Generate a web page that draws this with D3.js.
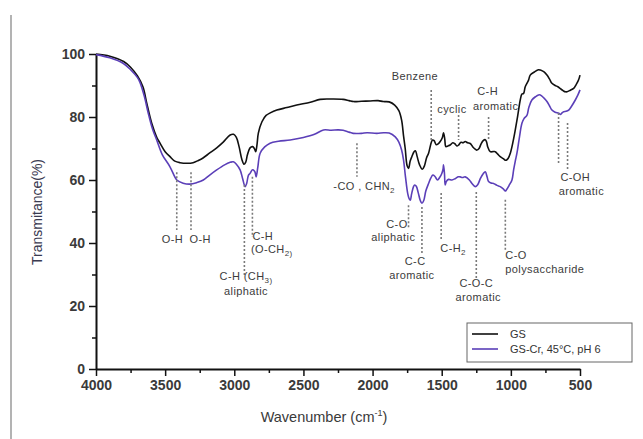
<!DOCTYPE html>
<html>
<head>
<meta charset="utf-8">
<script src="https://cdn.jsdelivr.net/npm/d3@7"></script>
<style>
  html, body { margin: 0; padding: 0; background: #fff; }
  svg { display: block; }
</style>
</head>
<body>
<svg id="chart" width="643" height="439"></svg>
<script>
// FTIR spectra: wavenumber (cm-1) and transmittance (%)
const gsWavenumber = [4000,3900,3800,3750,3700,3660,3633,3597,3560,3537,3500,3465,3430,3392,3340,3298,3260,3226,3180,3127,3080,3030,3005,2985,2965,2945,2930,2918,2905,2886,2868,2855,2845,2835,2826,2800,2770,2740,2692,2620,2548,2450,2379,2300,2213,2170,2138,2080,2017,1960,1923,1880,1840,1810,1790,1776,1764,1750,1740,1728,1716,1700,1690,1678,1660,1640,1625,1610,1595,1575,1566,1555,1540,1525,1511,1495,1487,1478,1470,1455,1439,1420,1405,1390,1378,1360,1345,1330,1312,1294,1275,1258,1245,1230,1215,1200,1185,1175,1168,1149,1130,1113,1095,1077,1055,1040,1033,1020,1004,985,968,950,932,920,908,896,872,860,830,800,787,760,739,720,703,680,660,642,620,606,594,570,546,525,510,500];
const gsTransmittance = [100,99.3,97.6,95.8,93,89.5,84.4,78,73.5,71.7,69,67.4,66,65.5,65.3,65.5,66.2,67,68.5,70.2,72,74.3,74.5,73.5,70.5,66.5,65,65.6,68,70.2,70.6,70,69,71.5,74.9,78.5,80.5,81.3,82.2,83,83.8,84.7,85.6,85.7,85.6,85.2,84.9,85,85.1,85.2,84.9,84.8,83.8,82,79,74,70,64.5,63.7,66,67.4,69,69.3,67.5,64.8,63.4,64.5,67,68.5,72,72.7,72.5,71.2,71.5,72.2,73.5,75,73,70.6,70.8,71.1,71.8,71.5,70.8,71.1,72,71.8,72.2,71.8,71.6,70.5,69.8,69.5,70,71.5,72.5,72.8,72,70.6,69,69,69,68.2,67.4,66.8,66.3,66.3,66.8,68.5,72,75.9,80.5,85.4,87.3,87.5,89.6,91.7,93.3,94.3,95,94.9,94.3,93.3,92,90.7,90,89.6,89,88.3,88,88,88.5,89.1,90.5,91.8,93.3];

const crWavenumber = [4000,3900,3802,3750,3700,3682,3650,3622,3590,3561,3520,3465,3430,3416,3370,3320,3270,3224,3180,3127,3070,3030,3007,2985,2958,2940,2922,2910,2898,2886,2870,2862,2850,2842,2830,2813,2780,2741,2680,2596,2500,2420,2355,2300,2250,2213,2170,2140,2080,2040,1969,1920,1880,1836,1810,1790,1776,1762,1745,1735,1727,1718,1704,1695,1684,1670,1655,1643,1630,1615,1595,1580,1564,1550,1530,1515,1500,1490,1487,1480,1475,1467,1450,1426,1400,1380,1366,1350,1330,1300,1280,1258,1240,1220,1200,1185,1172,1161,1140,1125,1100,1077,1055,1040,1033,1010,992,980,968,956,940,920,905,884,870,848,820,800,787,760,739,720,703,680,654,640,630,618,600,582,560,534,515,500];
const crTransmittance = [99.8,98.8,97,95,92.5,91,86.5,81.2,76,72.7,68,64.2,61,60,59,58.7,59.2,60,61.5,63.2,64.8,65.6,65.8,65,63.2,60.5,57.9,59,61.5,62.1,63.2,63.2,62.5,61,64,68.5,70.5,71.7,72.3,72.7,73.5,74.5,75.9,75.8,75.9,75.8,75.2,74.8,74.8,75,74.8,75,74.9,73.7,72,69.5,66.3,61,55.5,54,53.6,55.5,57.9,58.4,58,56,53.5,52.6,53.5,56.5,58.9,60.5,61.6,61.2,60,60.8,62,63.5,64.8,62,58.4,59.5,60.2,60,60.5,61,61,60.8,61,60,58.8,57.9,58.5,60.5,62,62.6,61,59.5,59,58.9,58.3,57.9,57.2,56.5,56.8,58.5,60,63.2,66,68.5,73,78,79.5,80.5,83,85.4,86.5,87,87,86,84.9,83.5,82.2,81.5,81.2,80.8,81.3,81.7,81.8,82.2,83.5,85.4,87,88.6];

const seriesNames = ["GS", "GS-Cr, 45°C, pH 6"];
const seriesColors = ["#111111", "#5b3fb8"];

const xTickValues = [4000, 3500, 3000, 2500, 2000, 1500, 1000, 500];
const xMinorTicks = [3750, 3250, 2750, 2250, 1750, 1250, 750];
const yTickValues = [0, 20, 40, 60, 80, 100];
const yMinorTicks = [10, 30, 50, 70, 90];

// Band assignments: wavenumber, dotted-line span (T from/to)
const bandWavenumber = [3416, 3313, 2927, 2869, 2113, 1576, 1378, 1161, 1740, 1643, 1504, 1250, 1040, 655, 590];
const bandFrom = [62.5, 62.5, 58.4, 61, 71.7, 88.6, 80.6, 80, 52, 51.4, 55.9, 56.2, 53.7, 81.3, 78.1];
const bandTo = [44.1, 44.1, 29.2, 41.9, 61, 72.7, 72.7, 72.7, 44.8, 36.8, 41, 28.3, 37.8, 65.4, 63.2];

// label: text (subscript after _), wavenumber, transmittance, anchor
const bandLabels = [
  ["O-H", 3447, 40, "middle"],
  ["O-H", 3247, 40, "middle"],
  ["C-H (CH_3)", 2915, 28.3, "middle"],
  ["aliphatic", 2915, 23.5, "middle"],
  ["C-H", 2869, 41, "start"],
  ["(O-CH_2)", 2880, 36.8, "start"],
  ["-CO , CHN_2", 2061, 56.8, "middle"],
  ["Benzene", 1694, 91.7, "middle"],
  ["cyclic", 1426, 81.3, "middle"],
  ["C-H", 1168, 87, "middle"],
  ["aromatic", 1110, 82.2, "middle"],
  ["C-O", 1824, 44.8, "middle"],
  ["aliphatic", 1850, 40.5, "middle"],
  ["C-C", 1692, 33, "middle"],
  ["aromatic", 1716, 28.6, "middle"],
  ["C-H_2", 1510, 37.1, "start"],
  ["C-O-C", 1250, 25.9, "middle"],
  ["aromatic", 1236, 21.6, "middle"],
  ["C-O", 1040, 34.8, "start"],
  ["polysaccharide", 1040, 30.5, "start"],
  ["C-OH", 534, 59.6, "middle"],
  ["aromatic", 490, 55.3, "middle"]
];

const svg = d3.select("#chart");

const x = d3.scaleLinear().domain([4000, 500]).range([96, 580]);
const y = d3.scaleLinear().domain([0, 100]).range([369, 54]);

// frame line at the left edge of the figure
svg.append("line")
  .attr("x1", 11).attr("x2", 11).attr("y1", 15).attr("y2", 439)
  .attr("stroke", "#9a9a9a").attr("stroke-width", 1.5);

// axes
const tickFont = "'Liberation Sans', Arial, sans-serif";
svg.append("g").attr("transform", `translate(0,${y(0)})`)
  .call(d3.axisBottom(x).tickValues(xTickValues).tickFormat(d3.format("d")).tickSize(7).tickSizeOuter(0).tickPadding(4));
svg.append("g").attr("transform", `translate(0,${y(0)})`)
  .call(d3.axisBottom(x).tickValues(xMinorTicks).tickFormat("").tickSize(4).tickSizeOuter(0))
  .select(".domain").remove();

svg.append("g").attr("transform", `translate(${x(4000)},0)`)
  .call(d3.axisLeft(y).tickValues(yTickValues).tickFormat(d3.format("d")).tickSize(7).tickSizeOuter(0).tickPadding(4));
svg.append("g").attr("transform", `translate(${x(4000)},0)`)
  .call(d3.axisLeft(y).tickValues(yMinorTicks).tickFormat("").tickSize(4).tickSizeOuter(0))
  .select(".domain").remove();

svg.selectAll(".domain").attr("stroke", "#111").attr("stroke-width", 2);
svg.selectAll(".tick line").attr("stroke", "#111").attr("stroke-width", 1.5);
svg.selectAll(".tick text")
  .attr("font-family", tickFont).attr("font-size", 14).attr("font-weight", "bold")
  .attr("fill", "#3a3a3a");

// axis titles
svg.append("text")
  .attr("transform", `translate(42,${212}) rotate(-90)`)
  .attr("text-anchor", "middle")
  .attr("font-family", tickFont).attr("font-size", 14).attr("fill", "#3a3a50")
  .text("Transmitance(%)");

const xTitle = svg.append("text")
  .attr("x", 324).attr("y", 422)
  .attr("text-anchor", "middle")
  .attr("font-family", tickFont).attr("font-size", 14.5).attr("fill", "#3a3a3a");
xTitle.append("tspan").text("Wavenumber (cm");
xTitle.append("tspan").attr("dy", -6).attr("font-size", 9).text("-1");
xTitle.append("tspan").attr("dy", 6).text(")");

// spectra
const line = d3.line()
  .x(d => x(d[0])).y(d => y(d[1]))
  .curve(d3.curveCatmullRom.alpha(0.5));

const spectra = [
  d3.zip(gsWavenumber, gsTransmittance),
  d3.zip(crWavenumber, crTransmittance)
];
spectra.forEach((pts, i) => {
  svg.append("path").datum(pts)
    .attr("d", line)
    .attr("fill", "none")
    .attr("stroke", seriesColors[i])
    .attr("stroke-width", 1.6)
    .attr("stroke-linejoin", "round");
});

// band marker lines
svg.append("g").selectAll("line")
  .data(d3.range(bandWavenumber.length))
  .join("line")
  .attr("x1", i => x(bandWavenumber[i])).attr("x2", i => x(bandWavenumber[i]))
  .attr("y1", i => y(bandFrom[i])).attr("y2", i => y(bandTo[i]))
  .attr("stroke", "#7a7a7a").attr("stroke-width", 1.6)
  .attr("stroke-dasharray", "2,2");

// band labels
const labelFont = "'Liberation Sans', Arial, sans-serif";
const lbl = svg.append("g").selectAll("text")
  .data(bandLabels)
  .join("text")
  .attr("x", d => x(d[1])).attr("y", d => y(d[2]))
  .attr("text-anchor", d => d[3])
  .attr("font-family", labelFont).attr("font-size", 11)
  .attr("letter-spacing", 0.4).attr("fill", "#3c3c3c");
lbl.each(function(d) {
  const t = d3.select(this);
  const parts = d[0].split("_");
  t.append("tspan").text(parts[0]);
  if (parts.length > 1) {
    t.append("tspan").attr("dy", 3).attr("font-size", 8).text(parts[1]);
  }
});

// legend
const legend = svg.append("g").attr("transform", "translate(467,323)");
legend.append("rect")
  .attr("width", 165).attr("height", 39)
  .attr("fill", "#fff").attr("stroke", "#666").attr("stroke-width", 1);
seriesNames.forEach((name, i) => {
  const yy = 11 + i * 15;
  legend.append("line")
    .attr("x1", 5).attr("x2", 31).attr("y1", yy).attr("y2", yy)
    .attr("stroke", seriesColors[i]).attr("stroke-width", 1.6);
  legend.append("text")
    .attr("x", 43).attr("y", yy + 4)
    .attr("font-family", tickFont).attr("font-size", 11).attr("fill", "#333")
    .text(name);
});
</script>
</body>
</html>
